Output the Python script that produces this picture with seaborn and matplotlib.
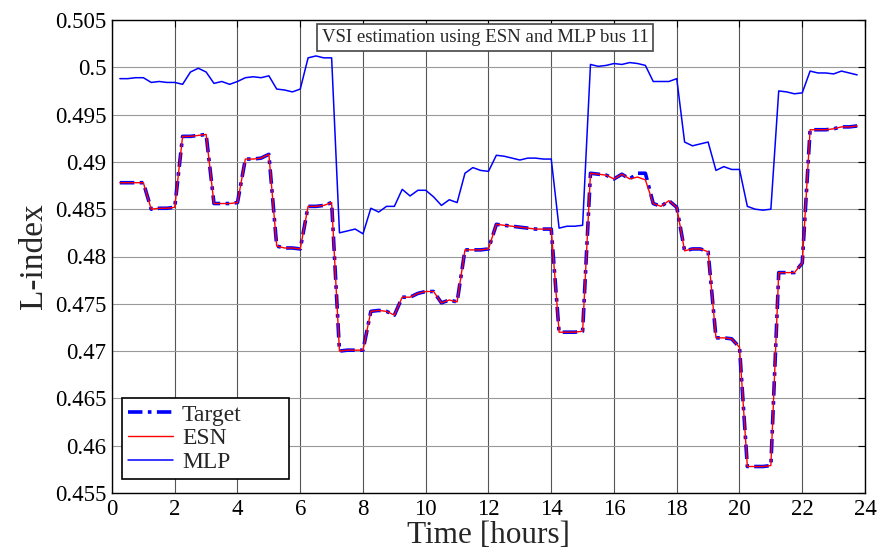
import numpy as np
import pandas as pd
import matplotlib
matplotlib.use("Agg")
import matplotlib.pyplot as plt
import seaborn as sns
from matplotlib.ticker import FuncFormatter

# ---- data ----
time_h = [0.25 * k for k in range(1, 96)]

target = [0.4878, 0.4878, 0.4878, 0.4878, 0.4850, 0.4851, 0.4851, 0.4852,
          0.4927, 0.4927, 0.4928, 0.4929, 0.4856, 0.4856, 0.4856, 0.4857,
          0.4903, 0.4903, 0.4904, 0.4908, 0.4811, 0.4809, 0.4809, 0.4808,
          0.4853, 0.4853, 0.4854, 0.4857, 0.4700, 0.4701, 0.4701, 0.4701,
          0.4742, 0.4743, 0.4742, 0.4738, 0.4757, 0.4757, 0.4761, 0.4763,
          0.4763, 0.4751, 0.4754, 0.4752, 0.4807, 0.4807, 0.4807, 0.4808,
          0.4834, 0.4833, 0.4832, 0.4831, 0.4830, 0.4829, 0.4829, 0.4829,
          0.4720, 0.4720, 0.4720, 0.4721, 0.4888, 0.4887, 0.4886, 0.4882,
          0.4887, 0.4882, 0.4888, 0.4888, 0.4856, 0.4853, 0.4859, 0.4852,
          0.4806, 0.4808, 0.4808, 0.4805, 0.4714, 0.4714, 0.4713, 0.4704,
          0.4578, 0.4578, 0.4578, 0.4579, 0.4783, 0.4783, 0.4783, 0.4793,
          0.4934, 0.4934, 0.4934, 0.4935, 0.4937, 0.4937, 0.4938]

esn = [0.4878, 0.4878, 0.4878, 0.4878, 0.4850, 0.4851, 0.4851, 0.4852,
       0.4927, 0.4927, 0.4928, 0.4929, 0.4856, 0.4856, 0.4856, 0.4857,
       0.4903, 0.4903, 0.4904, 0.4908, 0.4811, 0.4809, 0.4809, 0.4808,
       0.4853, 0.4853, 0.4854, 0.4857, 0.4700, 0.4701, 0.4701, 0.4701,
       0.4742, 0.4743, 0.4742, 0.4738, 0.4757, 0.4757, 0.4761, 0.4763,
       0.4763, 0.4751, 0.4754, 0.4752, 0.4807, 0.4807, 0.4807, 0.4808,
       0.4834, 0.4833, 0.4832, 0.4831, 0.4830, 0.4829, 0.4829, 0.4829,
       0.4720, 0.4720, 0.4720, 0.4721, 0.4888, 0.4887, 0.4886, 0.4882,
       0.4887, 0.4882, 0.4884, 0.4881, 0.4856, 0.4853, 0.4859, 0.4852,
       0.4806, 0.4808, 0.4808, 0.4805, 0.4714, 0.4714, 0.4713, 0.4704,
       0.4578, 0.4578, 0.4578, 0.4579, 0.4783, 0.4783, 0.4783, 0.4793,
       0.4934, 0.4934, 0.4934, 0.4935, 0.4937, 0.4937, 0.4938]

mlp = [0.4988, 0.4988, 0.4989, 0.4989, 0.4984, 0.4985, 0.4984, 0.4984,
       0.4982, 0.4995, 0.4999, 0.4995, 0.4983, 0.4985, 0.4982, 0.4985,
       0.4989, 0.4990, 0.4989, 0.4991, 0.4977, 0.4976, 0.4974, 0.4977,
       0.5010, 0.5012, 0.5010, 0.5010, 0.4825, 0.4827, 0.4829, 0.4824,
       0.4851, 0.4847, 0.4853, 0.4853, 0.4871, 0.4864, 0.4870, 0.4870,
       0.4863, 0.4854, 0.4860, 0.4857, 0.4888, 0.4894, 0.4891, 0.4890,
       0.4907, 0.4906, 0.4904, 0.4902, 0.4904, 0.4904, 0.4903, 0.4903,
       0.4830, 0.4832, 0.4832, 0.4833, 0.5003, 0.5001, 0.5002, 0.5004,
       0.5003, 0.5005, 0.5004, 0.5002, 0.4985, 0.4985, 0.4985, 0.4988,
       0.4921, 0.4917, 0.4919, 0.4921, 0.4891, 0.4895, 0.4892, 0.4892,
       0.4853, 0.4850, 0.4849, 0.4850, 0.4975, 0.4974, 0.4972, 0.4973,
       0.4996, 0.4994, 0.4994, 0.4993, 0.4996, 0.4994, 0.4992]

x_ticks = list(range(0, 25, 2))
y_ticks = [0.455, 0.46, 0.465, 0.47, 0.475, 0.48, 0.485, 0.49, 0.495, 0.5, 0.505]
title_text = "VSI estimation using ESN and MLP bus 11"
x_label = "Time [hours]"
y_label = "L-index"

df = pd.DataFrame({"t": time_h, "Target": target, "ESN": esn, "MLP": mlp})

# ---- style ----
sns.set_style("white")
plt.rcParams["font.family"] = ["Liberation Serif", "DejaVu Serif"]

fig = plt.figure(figsize=(8.78, 5.48), dpi=100)
ax = fig.add_axes([112 / 878, 1 - 493 / 548, (865 - 112) / 878, (493 - 20) / 548])

sns.lineplot(data=df, x="t", y="Target", ax=ax, color="#0000ff", linewidth=2.6,
             linestyle=(0, (4, 1.5, 1, 1.5)), label="Target")
sns.lineplot(data=df, x="t", y="ESN", ax=ax, color="#ff0000", linewidth=1.0,
             label="ESN")
sns.lineplot(data=df, x="t", y="MLP", ax=ax, color="#0000ff", linewidth=1.1,
             label="MLP")

ax.set_xlim(0, 24)
ax.set_ylim(0.455, 0.505)
ax.set_xticks(x_ticks)
ax.set_yticks(y_ticks)
ax.yaxis.set_major_formatter(FuncFormatter(lambda v, p: "%g" % round(v, 3)))

ax.xaxis.grid(True, color="#555555", linewidth=0.8)
ax.yaxis.grid(True, color="#999999", linewidth=0.8)
ax.set_axisbelow(True)

for s in ax.spines.values():
    s.set_color("black")
    s.set_linewidth(1.0)

ax.tick_params(direction="in", top=True, right=True, length=5, width=0.8,
               labelsize=16.5, colors="black")
ax.tick_params(axis="x", pad=4)
ax.tick_params(axis="y", pad=4)

ax.set_xlabel(x_label, fontsize=22.5)
ax.xaxis.label.set_va("baseline")
ax.xaxis.set_label_coords(0.5, -0.105)
ax.set_ylabel(y_label, fontsize=24, labelpad=4)

ax.text(0.4955, 0.963, title_text, transform=ax.transAxes, ha="center",
        va="center", fontsize=13.5,
        bbox=dict(boxstyle="square,pad=0.25", fc="white", ec="#444444", lw=1.2))

leg = ax.legend(loc="lower left",
                bbox_to_anchor=(0.013, 0.029, (289 - 121.7) / 753, 0.17),
                mode="expand", borderaxespad=0, fancybox=False, framealpha=1,
                edgecolor="black", fontsize=17, handlelength=1.9,
                handletextpad=0.4, labelspacing=0.1, borderpad=0.25)
leg.get_frame().set_linewidth(1.2)

fig.savefig("out.png", dpi=100)
